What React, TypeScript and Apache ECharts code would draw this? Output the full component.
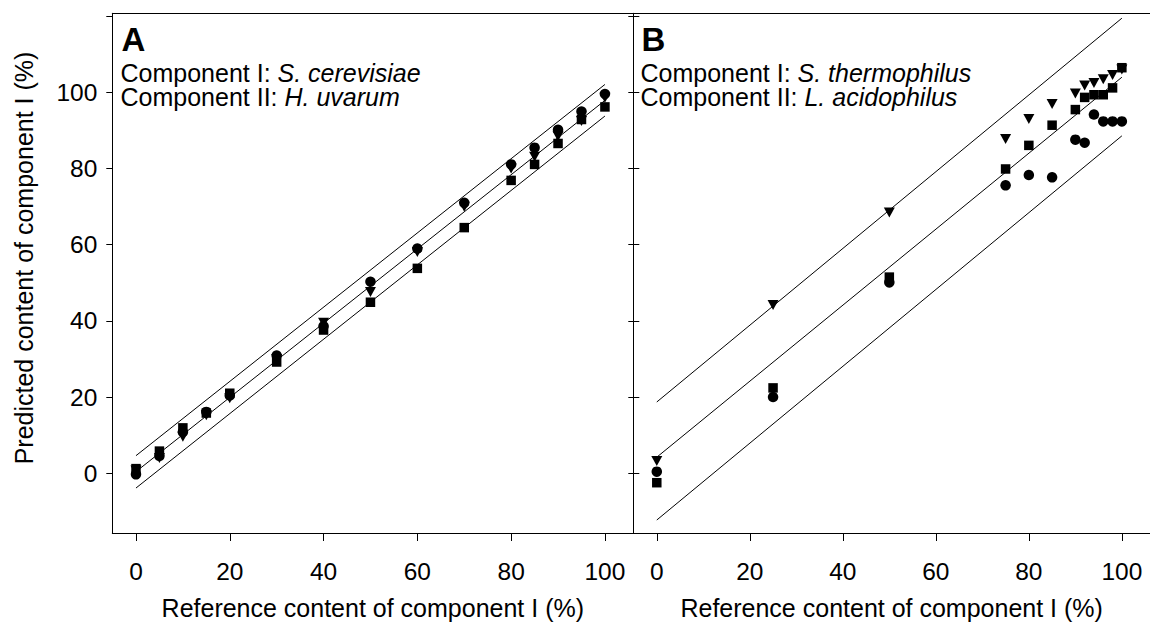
import React, { useEffect, useRef } from "react";
import * as echarts from "echarts";

// ---------- data ----------
const xA = [0, 5, 10, 15, 20, 30, 40, 50, 60, 70, 80, 85, 90, 95, 100];
const circleA = [-0.3, 4.5, 10.8, 16.1, 20.4, 30.9, 38.6, 50.3, 59.0, 71.0, 81.1, 85.5, 90.2, 95.0, 99.6];
const triangleA = [0.7, 4.0, 9.6, 15.2, 19.7, 30.0, 39.5, 47.6, 58.1, 70.0, 80.0, 83.1, 88.5, 92.5, 98.6];
const squareA = [1.2, 5.8, 11.9, 15.8, 21.0, 29.2, 37.6, 44.9, 53.8, 64.5, 76.9, 81.1, 86.6, 92.9, 96.2];

const xB = [0, 25, 50, 75, 80, 85, 90, 92, 94, 96, 98, 100];
const circleB = [0.4, 20.0, 50.1, 75.6, 78.3, 77.7, 87.6, 86.8, 94.2, 92.4, 92.4, 92.4];
const triangleB = [3.2, 44.2, 68.5, 87.8, 93.0, 97.0, 99.7, 101.8, 102.5, 103.5, 104.6, 106.0];
const squareB = [-2.5, 22.4, 51.5, 79.9, 86.1, 91.4, 95.5, 98.7, 99.4, 99.4, 101.2, 106.5];

// regression line and band endpoints: [y at x=0, y at x=100]
const lineEndsX = [0, 100];
const upperA = [4.6, 102.1];
const middleA = [0.4, 97.9];
const lowerA = [-3.9, 93.8];
const upperB = [18.7, 119.5];
const middleB = [4.2, 104.0];
const lowerB = [-12.3, 88.6];

const xTicks = [0, 20, 40, 60, 80, 100];
const yTicks = [0, 20, 40, 60, 80, 100, 120];
const yLabels = [0, 20, 40, 60, 80, 100];

const xTitle = "Reference content of component I (%)";
const yTitle = "Predicted content of component I (%)";
const panelA = ["A", "Component I: ", "S. cerevisiae", "Component II: ", "H. uvarum"];
const panelB = ["B", "Component I: ", "S. thermophilus", "Component II: ", "L. acidophilus"];

const FONT = "'Liberation Sans', Arial, Helvetica, sans-serif";

const pair = (xs: number[], ys: number[]) => xs.map((x, i) => [x, ys[i]]);

export default function App() {
  const ref = useRef<HTMLDivElement>(null);
  useEffect(() => {
    if (!ref.current) return;
    const chart = echarts.init(ref.current, undefined, { renderer: "svg" });
    const X_MIN = -5.05, X_MAX = 106.05, Y_MIN = -15.71, Y_MAX = 120.79;
    const black = "#000";
    const lineStyleAxis = { color: black, width: 1 };
    const TICK_FS = 24.5;
    const TXT_FS = 25;

    const xAxisBottom = (g: number) => ({
      type: "value", gridIndex: g, min: X_MIN, max: X_MAX, position: "bottom",
      axisLine: { show: true, onZero: false, lineStyle: lineStyleAxis },
      axisTick: { show: true, inside: false, length: 8, customValues: xTicks, lineStyle: lineStyleAxis },
      axisLabel: { show: true, customValues: xTicks, margin: 26, fontSize: TICK_FS, color: black, fontFamily: FONT },
      splitLine: { show: false },
      name: xTitle, nameLocation: "middle", nameGap: 62,
      nameTextStyle: { fontSize: TXT_FS, color: black, fontFamily: FONT },
    });
    const xAxisTop = (g: number) => ({
      type: "value", gridIndex: g, min: X_MIN, max: X_MAX, position: "top",
      axisLine: { show: true, onZero: false, lineStyle: lineStyleAxis },
      axisTick: { show: false }, axisLabel: { show: false }, splitLine: { show: false },
    });

    const lineSeries = (g: number, ys: number[]) => ({
      type: "line", xAxisIndex: g === 0 ? 0 : 2, yAxisIndex: g === 0 ? 0 : 1,
      data: pair(lineEndsX, ys), showSymbol: false, symbol: "none",
      lineStyle: { color: black, width: 1 }, silent: true, z: 2,
    });
    const scatter = (g: number, xs: number[], ys: number[], symbol: string, size: any, rotate = 0) => ({
      type: "scatter", xAxisIndex: g === 0 ? 0 : 2, yAxisIndex: g === 0 ? 0 : 1,
      data: pair(xs, ys), symbol, symbolSize: size, symbolRotate: rotate,
      itemStyle: { color: black, opacity: 1 }, z: 3,
    });

    const textStyleBase = { fill: black, fontFamily: FONT, fontSize: TXT_FS };
    const richI = {
      n: { fontSize: TXT_FS, fontFamily: FONT, fill: black, lineHeight: 24 },
      i: { fontStyle: "italic", fontSize: TXT_FS, fontFamily: FONT, fill: black, lineHeight: 24 },
    };
    const panelText = (x: number, p: string[]) => [
      { type: "text", x: x + 1, y: 39.5, style: { ...textStyleBase, text: p[0], fontSize: 33, fontWeight: "bold", verticalAlign: "middle" } },
      {
        type: "text", x, y: 85.2,
        style: {
          ...textStyleBase, verticalAlign: "middle", lineHeight: 24,
          text: `{n|${p[1]}}{i|${p[2]}}\n{n|${p[3]}}{i|${p[4]}}`, rich: richI,
        },
      },
    ];

    chart.setOption({
      animation: false,
      backgroundColor: "#fff",
      grid: [
        { left: 112.3, top: 13.3, width: 521, height: 521.4 },
        { left: 633.3, top: 13.3, width: 521, height: 521.4 },
      ],
      xAxis: [xAxisBottom(0), xAxisTop(0), xAxisBottom(1), xAxisTop(1)],
      yAxis: [
        {
          type: "value", gridIndex: 0, min: Y_MIN, max: Y_MAX, position: "left",
          axisLine: { show: true, onZero: false, lineStyle: lineStyleAxis },
          axisTick: { show: true, inside: false, length: 6, customValues: yTicks, lineStyle: lineStyleAxis },
          axisLabel: { show: true, customValues: yLabels, margin: 15, fontSize: TICK_FS, color: black, fontFamily: FONT },
          splitLine: { show: false },
        },
        {
          type: "value", gridIndex: 1, min: Y_MIN, max: Y_MAX, position: "left",
          axisLine: { show: true, onZero: false, lineStyle: lineStyleAxis },
          axisTick: { show: true, inside: true, length: 6, customValues: yTicks, lineStyle: lineStyleAxis },
          axisLabel: { show: false }, splitLine: { show: false },
        },
        {
          type: "value", gridIndex: 1, min: Y_MIN, max: Y_MAX, position: "left", offset: 0,
          axisLine: { show: false, onZero: false },
          axisTick: { show: true, inside: false, length: 5, customValues: yTicks, lineStyle: lineStyleAxis },
          axisLabel: { show: false }, splitLine: { show: false },
        },
      ],
      series: [
        lineSeries(0, upperA), lineSeries(0, middleA), lineSeries(0, lowerA),
        lineSeries(1, upperB), lineSeries(1, middleB), lineSeries(1, lowerB),
        scatter(0, xA, squareA, "rect", 9.5),
        scatter(0, xA, triangleA, "triangle", [11, 10], 180),
        scatter(0, xA, circleA, "circle", 10.5),
        scatter(1, xB, squareB, "rect", 9.5),
        scatter(1, xB, triangleB, "triangle", [11, 10], 180),
        scatter(1, xB, circleB, "circle", 10.5),
      ],
      graphic: [
        ...panelText(120.5, panelA),
        ...panelText(640.5, panelB),
        {
          type: "text", x: 24, y: 258, rotation: Math.PI / 2,
          style: { ...textStyleBase, text: yTitle, align: "center", verticalAlign: "middle" },
        },
      ],
    });
    return () => chart.dispose();
  }, []);
  return (
    <div
      ref={ref}
      style={{ position: "absolute", left: 0, top: 0, width: 1150, height: 625, background: "#fff" }}
    />
  );
}
